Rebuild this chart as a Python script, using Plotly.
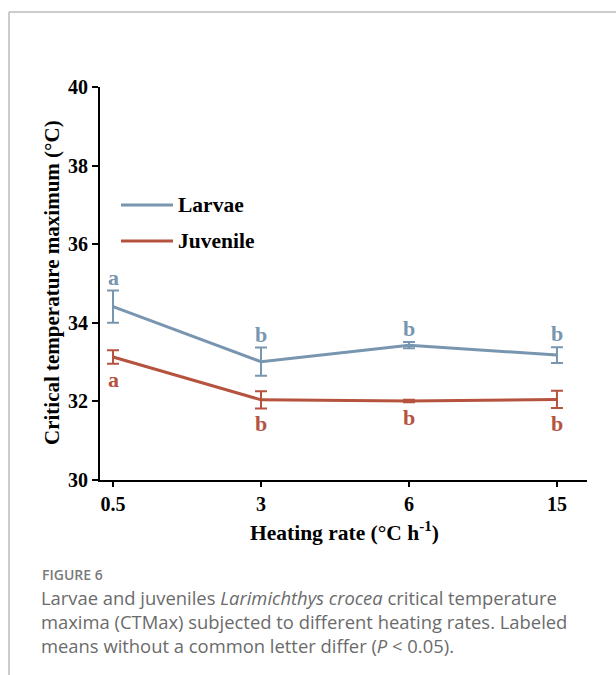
import plotly.graph_objects as go

# Heating-rate groups and CTMax means ± SE
heating_rates = ["0.5", "3", "6", "15"]
larvae_mean = [34.41, 33.01, 33.43, 33.18]
larvae_err = [0.41, 0.36, 0.08, 0.20]
juvenile_mean = [33.13, 32.04, 32.01, 32.05]
juvenile_err = [0.17, 0.22, 0.03, 0.22]
larvae_letters = ["a", "b", "b", "b"]
juvenile_letters = ["a", "b", "b", "b"]
y_ticks = [30, 32, 34, 36, 38, 40]

BLUE = "#7896AF"
RED = "#B5533F"
SERIF = "Liberation Serif"

W, H = 616, 675
L, R, T, B = 100, 29, 87, 195
PW, PH = W - L - R, H - T - B


def px(x):
    return (x - L) / PW


def py(y):
    return (H - B - y) / PH


positions = list(range(len(heating_rates)))

fig = go.Figure()

for name, mean, err, color in [
    ("Larvae", larvae_mean, larvae_err, BLUE),
    ("Juvenile", juvenile_mean, juvenile_err, RED),
]:
    fig.add_trace(go.Scatter(
        x=positions, y=mean, mode="lines", name=name,
        line=dict(color=color, width=3),
        error_y=dict(type="data", array=err, visible=True,
                     color=color, thickness=2, width=6),
        showlegend=False,
    ))

annotations = []
# significance letters above larvae bars and below juvenile bars
for xi, m, e, t in zip(positions, larvae_mean, larvae_err, larvae_letters):
    annotations.append(dict(x=xi, y=m + e, xref="x", yref="y", text="<b>%s</b>" % t,
                            showarrow=False, yanchor="bottom", yshift=-1,
                            font=dict(family=SERIF, size=22, color=BLUE)))
for xi, m, e, t in zip(positions, juvenile_mean, juvenile_err, juvenile_letters):
    annotations.append(dict(x=xi, y=m - e, xref="x", yref="y", text="<b>%s</b>" % t,
                            showarrow=False, yanchor="top", yshift=-1,
                            font=dict(family=SERIF, size=22, color=RED)))

# axis titles
annotations.append(dict(x=px(52), y=py(283), xref="paper", yref="paper",
                        text="<b>Critical temperature maximum (°C)</b>",
                        showarrow=False, textangle=-90,
                        xanchor="center", yanchor="middle",
                        font=dict(family=SERIF, size=21, color="black")))
annotations.append(dict(x=px(344), y=py(531), xref="paper", yref="paper",
                        text="<b>Heating rate (°C h<sup>-1</sup>)</b>",
                        showarrow=False, xanchor="center", yanchor="middle",
                        font=dict(family=SERIF, size=21.5, color="black")))

# legend
shapes = []
for label, color, yy in [("Larvae", BLUE, 205), ("Juvenile", RED, 241)]:
    shapes.append(dict(type="line", xref="paper", yref="paper",
                       x0=px(121), x1=px(173), y0=py(yy), y1=py(yy),
                       line=dict(color=color, width=3)))
    annotations.append(dict(x=px(176), y=py(yy), xref="paper", yref="paper",
                            text="<b>%s</b>" % label, showarrow=False,
                            xanchor="left", yanchor="middle",
                            font=dict(family=SERIF, size=21.5, color="black")))

# outer frame
shapes.append(dict(type="line", xref="paper", yref="paper",
                   x0=px(9), x1=px(W + 5), y0=py(12), y1=py(12),
                   line=dict(color="#BBBBBB", width=1.5)))
shapes.append(dict(type="line", xref="paper", yref="paper",
                   x0=px(9), x1=px(9), y0=py(12), y1=py(H + 5),
                   line=dict(color="#BBBBBB", width=1.5)))

# caption
annotations.append(dict(x=px(40), y=py(574), xref="paper", yref="paper",
                        text="FIGURE 6", showarrow=False,
                        xanchor="left", yanchor="middle",
                        font=dict(family="Open Sans", size=14, weight=600, color="#7A7A7A")))
caption = [
    "Larvae and juveniles <i>Larimichthys crocea</i> critical temperature",
    "maxima (CTMax) subjected to different heating rates. Labeled",
    "means without a common letter differ (<i>P</i> &lt; 0.05).",
]
for i, line in enumerate(caption):
    annotations.append(dict(x=px(39), y=py(597 + 24 * i), xref="paper", yref="paper",
                            text=line, showarrow=False,
                            xanchor="left", yanchor="middle",
                            font=dict(family="Open Sans", size=18.4, color="#6B6B6B")))

fig.update_layout(
    width=W, height=H,
    margin=dict(l=L, r=R, t=T, b=B),
    paper_bgcolor="white", plot_bgcolor="white",
    annotations=annotations, shapes=shapes,
    xaxis=dict(
        range=[-0.088, 3.203],
        tickmode="array", tickvals=positions,
        ticktext=["<b>%s</b>" % s for s in heating_rates],
        showline=True, linecolor="black", linewidth=2,
        ticks="outside", ticklen=5, tickwidth=2, tickcolor="black",
        showgrid=False, zeroline=False,
        tickfont=dict(family=SERIF, size=20, color="black"),
    ),
    yaxis=dict(
        range=[30, 40], tickmode="array", tickvals=y_ticks,
        ticktext=["<b>%d</b>" % v for v in y_ticks],
        showline=True, linecolor="black", linewidth=2,
        ticks="outside", ticklen=6, tickwidth=2, tickcolor="black",
        showgrid=False, zeroline=False,
        tickfont=dict(family=SERIF, size=20, color="black"),
    ),
)

fig.write_html("out.html")
